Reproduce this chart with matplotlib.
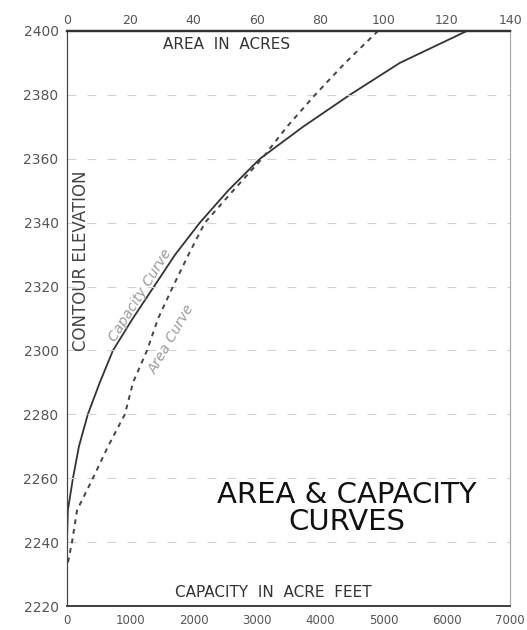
import matplotlib
matplotlib.use("Agg")
import matplotlib.pyplot as plt

elev = [2400, 2390, 2380, 2370, 2360, 2350, 2340, 2330, 2320, 2310, 2300,
        2290, 2280, 2270, 2260, 2250, 2240, 2230]
capacity = [6320, 5260, 4470, 3730, 3050, 2545, 2100, 1710, 1375, 1040, 727,
            520, 330, 190, 95, 15, 0, 0]
area_elev = [2400, 2390, 2380, 2370, 2360, 2350, 2340, 2330, 2320, 2310, 2300,
             2290, 2280, 2270, 2260, 2250, 2240, 2232]
area = [98.3, 87.9, 78.4, 69.5, 61.6, 52.5, 43.6, 38.4, 33.5, 28.8, 25.3,
        20.9, 18.3, 13.0, 8.2, 3.2, 1.6, 0.0]

elev_ticks = [2220, 2240, 2260, 2280, 2300, 2320, 2340, 2360, 2380, 2400]
cap_ticks = [0, 1000, 2000, 3000, 4000, 5000, 6000, 7000]
area_ticks = [0, 20, 40, 60, 80, 100, 120, 140]

plt.rcParams['font.family'] = ['DejaVu Sans']
fig = plt.figure(figsize=(5.27, 6.30), dpi=100)
ax = fig.add_axes([0.127, 0.038, 0.841, 0.913])
ax.set_xlim(0, 7000)
ax.set_ylim(2220, 2400)
ax.plot(capacity, elev, color='#333333', lw=1.3)
ax.set_xticks(cap_ticks)
ax.set_yticks(elev_ticks)
ax.set_xticklabels([str(t) for t in cap_ticks], color='#555555', fontsize=8.5)
ax.set_yticklabels([str(t) for t in elev_ticks], color='#555555', fontsize=10)
ax.tick_params(length=0, pad=6)
for y in elev_ticks[1:-1]:
    ax.axhline(y, color='#d2d2d2', lw=0.8, ls=(0, (8, 10)))

ax2 = ax.twiny()
ax2.set_xlim(0, 140)
ax2.plot(area, area_elev, color='#444444', lw=1.4, ls=(0, (2.5, 2.5)))
ax2.set_xticks(area_ticks)
ax2.set_xticklabels([str(t) for t in area_ticks], color='#555555', fontsize=9)
ax2.tick_params(length=0, pad=3)

for a in (ax, ax2):
    a.spines['left'].set_color('#444444')
    a.spines['top'].set_color('#333333')
    a.spines['top'].set_linewidth(1.6)
    a.spines['bottom'].set_color('#444444')
    a.spines['bottom'].set_linewidth(1.3)
    a.spines['right'].set_color('#aaaaaa')

ax.text(0.361, 0.976, 'AREA  IN  ACRES', transform=ax.transAxes, ha='center', va='center',
        fontsize=11, color='#333333')
ax.text(0.465, 0.023, 'CAPACITY  IN  ACRE  FEET', transform=ax.transAxes, ha='center',
        va='center', fontsize=11, color='#333333')
ax.text(0.032, 0.6, 'CONTOUR ELEVATION', transform=ax.transAxes, ha='center',
        va='center', rotation=90, fontsize=12, color='#444444')
ax.text(0.632, 0.17, 'AREA & CAPACITY\nCURVES', transform=ax.transAxes, ha='center',
        va='center', fontsize=21, color='#111111', linespacing=0.95)
ax.text(0.165, 0.54, 'Capacity Curve', transform=ax.transAxes, ha='center', va='center',
        rotation=58, fontsize=10, style='italic', color='#9a9a9a')
ax.text(0.237, 0.463, 'Area Curve', transform=ax.transAxes, ha='center', va='center',
        rotation=60, fontsize=10, style='italic', color='#9a9a9a')

fig.savefig('out.png', dpi=100)
